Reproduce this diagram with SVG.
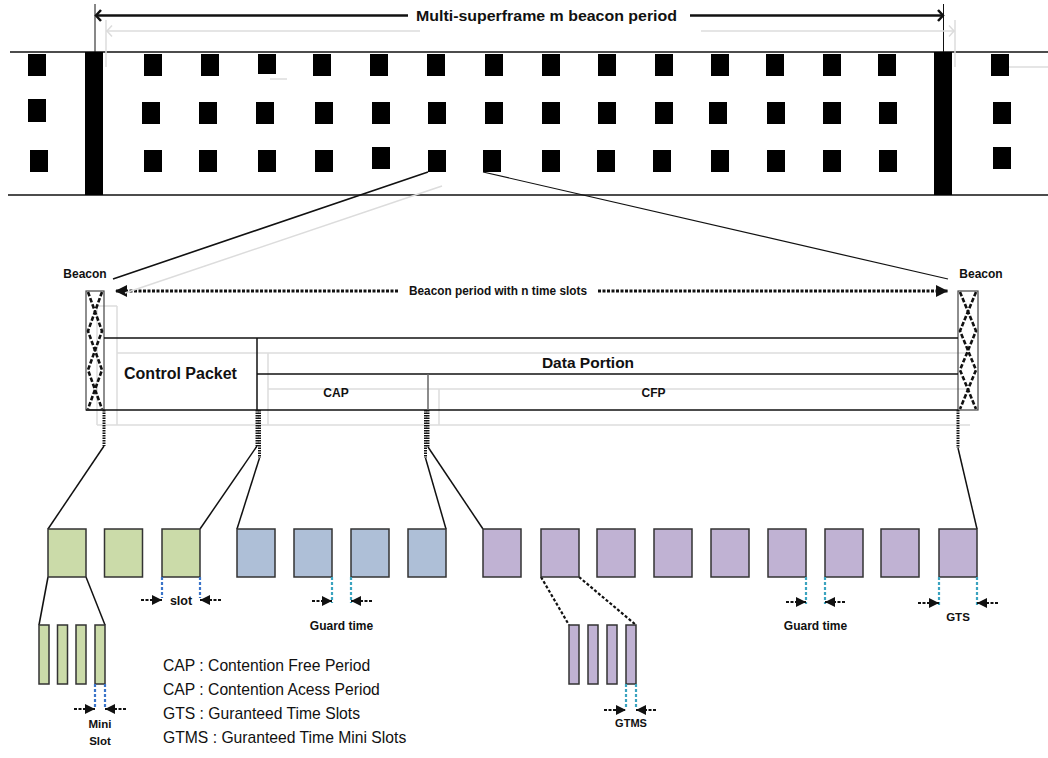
<svg xmlns="http://www.w3.org/2000/svg" width="1048" height="758" viewBox="0 0 1048 758">
<style>
.b{font-family:"Liberation Sans",Arial,sans-serif;font-weight:bold;fill:#111}
.n{font-family:"Liberation Sans",Arial,sans-serif;fill:#111}
.sq{fill:#000}
.ln{stroke:#111;stroke-width:1.5;fill:none}
.gl{stroke:#dcdcdc;stroke-width:1.5;fill:none}
.dot{stroke:#111;stroke-width:3;stroke-dasharray:1.5 1;fill:none}
.dl{stroke:#111;stroke-width:2.2;stroke-dasharray:3 2;fill:none}
.zz{stroke:#111;stroke-width:2.6;stroke-dasharray:4.5 2;fill:none}
.bx{stroke:#333;stroke-width:1.5}
.g{fill:#cbdba9}.bl{fill:#aebfd7}.p{fill:#c0b2d3}
.bd{stroke:#3a74c9;stroke-width:2.2;stroke-dasharray:3 2}
.td{stroke:#3aa3bf;stroke-width:2.2;stroke-dasharray:3 2}
.sa{stroke:#111;stroke-width:2.2;stroke-dasharray:3 1.5;marker-end:url(#ah)}
.la{stroke:#111;stroke-width:3;stroke-dasharray:3 1.5;marker-end:url(#ah2)}
</style>
<defs>
<marker id="ah" viewBox="0 0 10 10" refX="10" refY="5" markerWidth="4.6" markerHeight="4.6" orient="auto"><path d="M0,0 L10,5 L0,10 z" fill="#111"/></marker>
<marker id="ah2" viewBox="0 0 10 10" refX="10" refY="5" markerWidth="4" markerHeight="4" orient="auto"><path d="M0,0 L10,5 L0,10 z" fill="#111"/></marker>
</defs>

<g id="multi-superframe">
  <line x1="10" y1="52" x2="1048" y2="52" class="ln"/>
  <line x1="8" y1="195" x2="1048" y2="195" class="ln"/>
  <line x1="95" y1="4" x2="95" y2="52" stroke="#111" stroke-width="1"/>
  <line x1="943.5" y1="4" x2="943.5" y2="52" stroke="#111" stroke-width="1"/>
  <line x1="106" y1="20" x2="106" y2="67" class="gl" stroke-width="1"/>
  <line x1="955" y1="20" x2="955" y2="67" class="gl" stroke-width="1"/>
  <line x1="270" y1="79" x2="287" y2="79" class="gl"/>
  <line x1="1008" y1="67" x2="1048" y2="67" class="gl"/>
  <rect x="85" y="52" width="18" height="143" fill="#000"/>
  <rect x="934" y="52" width="18" height="143" fill="#000"/>
  <!-- row 1 -->
  <rect class="sq" x="28" y="54" width="18" height="22"/>
  <rect class="sq" x="144" y="54" width="18" height="22"/>
  <rect class="sq" x="201" y="54" width="18" height="22"/>
  <rect class="sq" x="258" y="54" width="18" height="20"/>
  <rect class="sq" x="313" y="54" width="18" height="22"/>
  <rect class="sq" x="370" y="54" width="18" height="22"/>
  <rect class="sq" x="427" y="54" width="18" height="22"/>
  <rect class="sq" x="485" y="54" width="18" height="22"/>
  <rect class="sq" x="542" y="54" width="18" height="22"/>
  <rect class="sq" x="598" y="54" width="18" height="22"/>
  <rect class="sq" x="655" y="54" width="18" height="22"/>
  <rect class="sq" x="711" y="54" width="18" height="22"/>
  <rect class="sq" x="766" y="54" width="18" height="22"/>
  <rect class="sq" x="823" y="54" width="18" height="22"/>
  <rect class="sq" x="878" y="54" width="18" height="22"/>
  <rect class="sq" x="991" y="54" width="18" height="22"/>
  <!-- row 2 -->
  <rect class="sq" x="28" y="99" width="18" height="23"/>
  <rect class="sq" x="142" y="102" width="18" height="22"/>
  <rect class="sq" x="199" y="102" width="18" height="22"/>
  <rect class="sq" x="256" y="102" width="18" height="22"/>
  <rect class="sq" x="315" y="102" width="18" height="22"/>
  <rect class="sq" x="372" y="102" width="18" height="22"/>
  <rect class="sq" x="428" y="102" width="18" height="22"/>
  <rect class="sq" x="485" y="102" width="18" height="22"/>
  <rect class="sq" x="542" y="102" width="18" height="22"/>
  <rect class="sq" x="598" y="102" width="18" height="22"/>
  <rect class="sq" x="655" y="102" width="18" height="22"/>
  <rect class="sq" x="709" y="102" width="18" height="22"/>
  <rect class="sq" x="767" y="102" width="18" height="22"/>
  <rect class="sq" x="823" y="102" width="18" height="22"/>
  <rect class="sq" x="879" y="102" width="18" height="22"/>
  <rect class="sq" x="993" y="102" width="18" height="22"/>
  <!-- row 3 -->
  <rect class="sq" x="30" y="150" width="18" height="22"/>
  <rect class="sq" x="144" y="150" width="18" height="22"/>
  <rect class="sq" x="199" y="150" width="18" height="22"/>
  <rect class="sq" x="258" y="150" width="18" height="22"/>
  <rect class="sq" x="315" y="150" width="18" height="22"/>
  <rect class="sq" x="372" y="147" width="18" height="22"/>
  <rect class="sq" x="428" y="150" width="18" height="22"/>
  <rect class="sq" x="483" y="150" width="18" height="22"/>
  <rect class="sq" x="542" y="150" width="18" height="22"/>
  <rect class="sq" x="597" y="150" width="18" height="22"/>
  <rect class="sq" x="653" y="150" width="18" height="22"/>
  <rect class="sq" x="711" y="150" width="18" height="22"/>
  <rect class="sq" x="767" y="150" width="18" height="22"/>
  <rect class="sq" x="823" y="150" width="18" height="22"/>
  <rect class="sq" x="879" y="150" width="18" height="22"/>
  <rect class="sq" x="993" y="147" width="18" height="22"/>
</g>

<g id="multi-period-arrow">
  <line x1="106" y1="31" x2="420" y2="31" class="gl" stroke-width="2"/>
  <line x1="701" y1="31" x2="955" y2="31" class="gl" stroke-width="2"/>
  <polyline points="112,25.5 107,31 112,36.5" class="gl" stroke-width="2"/>
  <polyline points="949,25.5 954,31 949,36.5" class="gl" stroke-width="2"/>
  <line x1="97" y1="15.5" x2="408" y2="15.5" stroke="#111" stroke-width="2.5"/>
  <line x1="690" y1="15.5" x2="942" y2="15.5" stroke="#111" stroke-width="2.5"/>
  <polyline points="101,10 96,15.5 101,21" stroke="#111" stroke-width="2.5" fill="none"/>
  <polyline points="938,10 943,15.5 938,21" stroke="#111" stroke-width="2.5" fill="none"/>
  <text x="546.5" y="21" class="b" font-size="15.5" text-anchor="middle" textLength="261" lengthAdjust="spacingAndGlyphs">Multi-superframe m beacon period</text>
</g>

<g id="beacon-period-arrow">
  <line x1="398" y1="291" x2="115" y2="291" class="la"/>
  <line x1="598" y1="291" x2="948" y2="291" class="la"/>
  <text x="498" y="295" class="b" font-size="12.5" text-anchor="middle" textLength="178" lengthAdjust="spacingAndGlyphs">Beacon period with n time slots</text>
</g>

<g id="frame-shadow">
  <line x1="97" y1="306" x2="117" y2="306" class="gl" stroke-width="1"/>
  <line x1="97" y1="306" x2="97" y2="425" class="gl" stroke-width="1"/>
  <line x1="117" y1="306" x2="117" y2="425" class="gl" stroke-width="1"/>
  <line x1="117" y1="353" x2="970" y2="353" class="gl"/>
  <line x1="268" y1="389" x2="970" y2="389" class="gl"/>
  <line x1="97" y1="425" x2="970" y2="425" class="gl"/>
  <line x1="268" y1="353" x2="268" y2="425" class="gl" stroke-width="1"/>
  <line x1="439" y1="389" x2="439" y2="425" class="gl" stroke-width="1"/>
</g>

<g id="beacon-left">
  <rect x="86" y="291" width="18" height="119" fill="none" stroke="#444" stroke-width="1.2"/>
  <polyline points="88,292 102,331 88,370 102,409" class="zz"/>
  <polyline points="102,292 88,331 102,370 88,409" class="zz"/>
  <text x="85" y="278" class="b" font-size="12" text-anchor="middle">Beacon</text>
</g>
<g id="beacon-right">
  <rect x="958" y="291" width="20" height="119" fill="none" stroke="#444" stroke-width="1.2"/>
  <polyline points="960,292 976,331 960,370 976,409" class="zz"/>
  <polyline points="976,292 960,331 976,370 960,409" class="zz"/>
  <text x="981" y="278" class="b" font-size="12" text-anchor="middle">Beacon</text>
</g>

<g id="frame">
  <line x1="104" y1="338" x2="958" y2="338" class="ln"/>
  <line x1="257" y1="374" x2="958" y2="374" class="ln"/>
  <line x1="86" y1="410" x2="958" y2="410" class="ln"/>
  <line x1="257" y1="338" x2="257" y2="410" class="ln"/>
  <line x1="428" y1="374" x2="428" y2="410" stroke="#666" stroke-width="1.5"/>
</g>
<g id="control-packet"><text x="180.5" y="379" class="b" font-size="16" text-anchor="middle">Control Packet</text></g>
<g id="data-portion"><text x="588" y="368" class="b" font-size="15.5" text-anchor="middle">Data Portion</text></g>
<g id="cap"><text x="336" y="397" class="b" font-size="12" text-anchor="middle">CAP</text></g>
<g id="cfp"><text x="653.5" y="397" class="b" font-size="12" text-anchor="middle">CFP</text></g>

<g id="connectors">
  <line x1="428" y1="172" x2="113" y2="279" stroke="#111" stroke-width="1.6"/>
  <line x1="442" y1="186" x2="125" y2="293" class="gl"/>
  <line x1="483" y1="172" x2="948" y2="279" stroke="#111" stroke-width="1.2"/>
  <line x1="104" y1="410" x2="104" y2="446" class="dot"/>
  <line x1="104" y1="446" x2="48" y2="529" class="ln"/>
  <line x1="257" y1="410" x2="257" y2="446" class="dot"/>
  <line x1="257" y1="446" x2="200" y2="529" class="ln"/>
  <line x1="259.5" y1="410" x2="259.5" y2="458" class="dot"/>
  <line x1="259.5" y1="458" x2="237" y2="529" class="ln"/>
  <line x1="428" y1="410" x2="428" y2="447" class="dot"/>
  <line x1="428" y1="447" x2="483" y2="529" class="ln"/>
  <line x1="425.5" y1="410" x2="425.5" y2="458" class="dot"/>
  <line x1="425.5" y1="458" x2="446" y2="529" class="ln"/>
  <line x1="958" y1="410" x2="958" y2="448" class="dot"/>
  <line x1="958" y1="448" x2="977" y2="529" class="ln"/>
  <line x1="48" y1="577" x2="39" y2="625" class="ln"/>
  <line x1="86" y1="577" x2="105" y2="625" class="ln"/>
  <line x1="541" y1="577" x2="569" y2="625" class="dl"/>
  <line x1="579" y1="577" x2="636" y2="625" class="dl"/>
</g>

<g id="cp-slots">
  <rect class="g bx" x="48" y="529" width="38" height="48"/>
  <rect class="g bx" x="104.5" y="529" width="38" height="48"/>
  <rect class="g bx" x="162" y="529" width="38" height="48"/>
</g>
<g id="cap-slots">
  <rect class="bl bx" x="237" y="529" width="38" height="48"/>
  <rect class="bl bx" x="294" y="529" width="38" height="48"/>
  <rect class="bl bx" x="351" y="529" width="38" height="48"/>
  <rect class="bl bx" x="408" y="529" width="38" height="48"/>
</g>
<g id="cfp-slots">
  <rect class="p bx" x="483" y="529" width="38" height="48"/>
  <rect class="p bx" x="541" y="529" width="38" height="48"/>
  <rect class="p bx" x="597" y="529" width="38" height="48"/>
  <rect class="p bx" x="654" y="529" width="38" height="48"/>
  <rect class="p bx" x="711" y="529" width="38" height="48"/>
  <rect class="p bx" x="768" y="529" width="38" height="48"/>
  <rect class="p bx" x="825" y="529" width="38" height="48"/>
  <rect class="p bx" x="881" y="529" width="38" height="48"/>
  <rect class="p bx" x="939" y="529" width="38" height="48"/>
</g>
<g id="mini-slots">
  <rect class="g bx" x="39" y="625" width="10" height="59"/>
  <rect class="g bx" x="57.5" y="625" width="10" height="59"/>
  <rect class="g bx" x="76" y="625" width="10" height="59"/>
  <rect class="g bx" x="95" y="625" width="10" height="59"/>
</g>
<g id="gtms-slots">
  <rect class="p bx" x="569" y="625" width="10" height="59"/>
  <rect class="p bx" x="588" y="625" width="10" height="59"/>
  <rect class="p bx" x="607" y="625" width="10" height="59"/>
  <rect class="p bx" x="626" y="625" width="10" height="59"/>
</g>

<g id="slot-label">
  <line x1="162" y1="577" x2="162" y2="598" class="bd"/>
  <line x1="200" y1="577" x2="200" y2="598" class="bd"/>
  <line x1="141" y1="600" x2="162" y2="600" class="sa"/>
  <line x1="221" y1="600" x2="200" y2="600" class="sa"/>
  <text x="181" y="605" class="b" font-size="12.5" text-anchor="middle">slot</text>
</g>
<g id="guard-time-1">
  <line x1="332" y1="577" x2="332" y2="603" class="td"/>
  <line x1="351" y1="577" x2="351" y2="603" class="td"/>
  <line x1="312" y1="601" x2="332" y2="601" class="sa"/>
  <line x1="372" y1="601" x2="351" y2="601" class="sa"/>
  <text x="341.5" y="630" class="b" font-size="12" text-anchor="middle">Guard time</text>
</g>
<g id="guard-time-2">
  <line x1="806" y1="577" x2="806" y2="604" class="td"/>
  <line x1="825" y1="577" x2="825" y2="604" class="td"/>
  <line x1="786" y1="602" x2="806" y2="602" class="sa"/>
  <line x1="845" y1="602" x2="825" y2="602" class="sa"/>
  <text x="815.5" y="630" class="b" font-size="12" text-anchor="middle">Guard time</text>
</g>
<g id="gts-label">
  <line x1="939" y1="577" x2="939" y2="606" class="td"/>
  <line x1="977" y1="577" x2="977" y2="606" class="td"/>
  <line x1="918" y1="603" x2="939" y2="603" class="sa"/>
  <line x1="998" y1="603" x2="977" y2="603" class="sa"/>
  <text x="958" y="621" class="b" font-size="11.5" text-anchor="middle">GTS</text>
</g>
<g id="mini-slot-label">
  <line x1="95" y1="684" x2="95" y2="708" class="bd"/>
  <line x1="105" y1="684" x2="105" y2="708" class="bd"/>
  <line x1="74" y1="709" x2="95" y2="709" class="sa"/>
  <line x1="126" y1="709" x2="105" y2="709" class="sa"/>
  <text x="100" y="728" class="b" font-size="11.5" text-anchor="middle">Mini</text>
  <text x="100" y="745" class="b" font-size="11.5" text-anchor="middle">Slot</text>
</g>
<g id="gtms-label">
  <line x1="626" y1="684" x2="626" y2="708" class="td"/>
  <line x1="636" y1="684" x2="636" y2="708" class="td"/>
  <line x1="604" y1="710" x2="626" y2="710" class="sa"/>
  <line x1="656" y1="710" x2="636" y2="710" class="sa"/>
  <text x="631" y="727" class="b" font-size="11" text-anchor="middle">GTMS</text>
</g>

<g id="legend">
  <text x="163" y="671" class="n" font-size="15.7">CAP : Contention Free Period</text>
  <text x="163" y="695" class="n" font-size="15.7">CAP : Contention Acess Period</text>
  <text x="163" y="719" class="n" font-size="15.7">GTS : Guranteed Time Slots</text>
  <text x="163" y="743" class="n" font-size="15.7">GTMS : Guranteed Time Mini Slots</text>
</g>
</svg>
